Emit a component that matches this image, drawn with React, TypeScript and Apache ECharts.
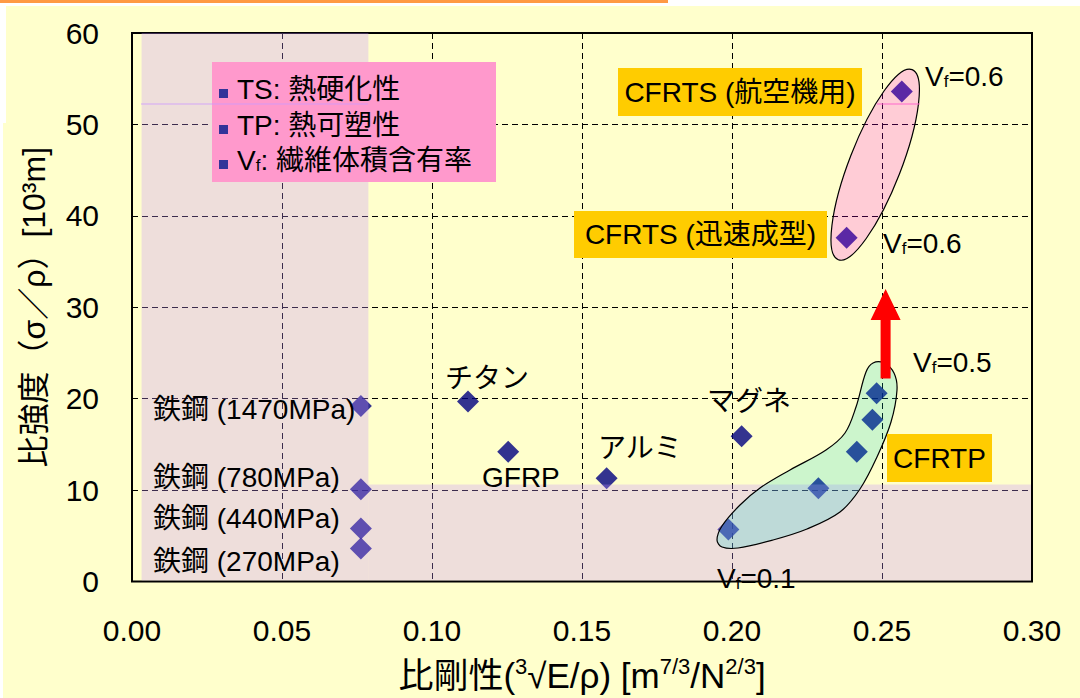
import React, { useEffect, useRef } from "react";
import * as echarts from "echarts";

// ---- data ----
const steelLabels = ["鉄鋼 (1470MPa)", "鉄鋼 (780MPa)", "鉄鋼 (440MPa)", "鉄鋼 (270MPa)"];
const steelStiffness = [0.0763, 0.0763, 0.0763, 0.0763];
const steelStrength = [19.2, 10.1, 5.8, 3.6];

const otherNames = ["チタン", "GFRP", "アルミ", "マグネ"];
const otherStiffness = [0.112, 0.1254, 0.1582, 0.2032];
const otherStrength = [19.7, 14.2, 11.3, 15.9];

const cfrtpStiffness = [0.1988, 0.2288, 0.2416, 0.2468, 0.2482];
const cfrtpStrength = [5.7, 10.2, 14.2, 17.7, 20.6];

const cfrtsNames = ["CFRTS (航空機用)", "CFRTS (迅速成型)"];
const cfrtsStiffness = [0.2566, 0.2382];
const cfrtsStrength = [53.6, 37.6];

const legendItems = ["TS: 熱硬化性", "TP: 熱可塑性", "Vf: 繊維体積含有率"];

const FONT = "'Liberation Sans', 'Noto Sans CJK JP', sans-serif";

const zip = (xs: number[], ys: number[]) => xs.map((x, i) => [x, ys[i]]);

export default function App() {
  const ref = useRef<HTMLDivElement>(null);

  useEffect(() => {
    const chart = echarts.init(ref.current!, null, { renderer: "svg" });
    const diamond = {
      type: "scatter",
      symbol: "diamond",
      symbolSize: 22,
      itemStyle: { color: "#000080" },
      z: 2,
    };
    chart.setOption({
      animation: false,
      backgroundColor: "transparent",
      grid: {
        left: 132,
        top: 33,
        width: 900,
        height: 550,
        show: true,
        borderColor: "#000",
        borderWidth: 2,
        backgroundColor: "transparent",
      },
      xAxis: {
        type: "value",
        min: 0,
        max: 0.3,
        interval: 0.05,
        axisLine: { show: false },
        axisTick: { show: false },
        axisLabel: {
          fontSize: 30,
          fontFamily: FONT,
          color: "#000",
          margin: 34,
          formatter: (v: number) => v.toFixed(2),
        },
        splitLine: { show: true, lineStyle: { color: "#000", width: 1, type: [6, 4] } },
        name: "{a|比剛性(}{s|3}{a|√E/ρ) [m}{s|7/3}{a|/N}{s|2/3}{a|]}",
        nameLocation: "middle",
        nameGap: 74,
        nameTextStyle: {
          rich: {
            a: { fontSize: 35, fontFamily: FONT, color: "#000", lineHeight: 40 },
            s: { fontSize: 22, fontFamily: FONT, color: "#000", verticalAlign: "top", lineHeight: 22 },
          },
        },
      },
      yAxis: {
        type: "value",
        min: 0,
        max: 60,
        interval: 10,
        axisLine: { show: false },
        axisTick: { show: false },
        axisLabel: { fontSize: 30, fontFamily: FONT, color: "#000", margin: 33 },
        splitLine: { show: true, lineStyle: { color: "#000", width: 1, type: [6, 4] } },
        name: "比強度（σ／ρ）[10³m]",
        nameLocation: "middle",
        nameRotate: 90,
        nameGap: 82,
        nameTextStyle: { fontSize: 32, fontFamily: FONT, color: "#000" },
      },
      series: [
        { ...diamond, name: "鉄鋼", data: zip(steelStiffness, steelStrength) },
        { ...diamond, name: "金属・GFRP", data: zip(otherStiffness, otherStrength) },
        { ...diamond, name: "CFRTP", data: zip(cfrtpStiffness, cfrtpStrength) },
        { ...diamond, name: "CFRTS", data: zip(cfrtsStiffness, cfrtsStrength) },
      ],
    });

    const px = (x: number, y: number) => chart.convertToPixel({ gridIndex: 0 }, [x, y]) as number[];

    const txt = (text: string, x: number, y: number, align = "left", size = 28, z = 30) => ({
      type: "text",
      z,
      silent: true,
      style: {
        text,
        x,
        y,
        fill: "#000",
        fontSize: size,
        fontFamily: FONT,
        align,
        verticalAlign: "middle",
      },
    });
    const richVf = (text: string, x: number, y: number) => ({
      type: "text",
      z: 30,
      silent: true,
      style: {
        text,
        x,
        y,
        fill: "#000",
        fontSize: 28,
        fontFamily: FONT,
        align: "left",
        verticalAlign: "middle",
        rich: {
          v: { fontSize: 28, fontFamily: FONT, fill: "#000" },
          s: { fontSize: 17, fontFamily: FONT, fill: "#000", verticalAlign: "bottom" },
        },
      },
    });
    const vf = (val: string, x: number, y: number) => richVf(`{v|V}{s|f}{v|=${val}}`, x, y);
    const box = (x1: number, y1: number, x2: number, y2: number, fill: string, z = 25) => ({
      type: "rect",
      z,
      silent: true,
      shape: { x: x1, y: y1, width: x2 - x1, height: y2 - y1 },
      style: { fill },
    });

    // shaded bands (L shape)
    const vTL = px(0.0032, 60);
    const vBR = px(0.0788, 0);
    const hTL = px(0.0788, 10.6);
    const hBR = px(0.3, 0);
    const bandFill = "rgba(198,145,255,0.3)";

    // CFRTS ellipse
    const c1 = px(cfrtsStiffness[0], cfrtsStrength[0]);
    const c2 = px(cfrtsStiffness[1], cfrtsStrength[1]);
    const ecx = (c1[0] + c2[0]) / 2 + 1;
    const ecy = (c1[1] + c2[1]) / 2;

    // arrow
    const aTip = px(0.2512, 32);
    const aHead = px(0.2512, 28.6);
    const aBot = px(0.2512, 22.2);
    const ax = aTip[0];

    const blob = [
      [873, 363], [884, 363], [894, 373], [897, 390], [891, 422], [877, 457], [860, 489],
      [840, 512], [807, 529], [773, 540], [738, 548], [722, 547], [717, 540], [722, 526],
      [740, 505], [760, 488], [790, 470], [826, 450], [845, 433], [856, 407], [866, 372],
    ];

    const legendY = [89, 125, 160];

    chart.setOption({
      graphic: [
        box(vTL[0], vTL[1], vBR[0], vBR[1] - 1, bandFill, 10),
        box(hTL[0], hTL[1], hBR[0] - 1, hBR[1] - 1, bandFill, 10),
        {
          type: "polygon",
          z: 11,
          silent: true,
          shape: { points: blob, smooth: 0.35 },
          style: { fill: "rgba(0,205,204,0.2)", stroke: "#000", lineWidth: 1.2 },
        },
        {
          type: "ellipse",
          z: 11,
          silent: true,
          x: ecx,
          y: ecy,
          rotation: -0.37,
          shape: { cx: 0, cy: 0, rx: 26, ry: 102 },
          style: { fill: "rgba(255,0,255,0.2)", stroke: "#000", lineWidth: 1.2 },
        },
        {
          type: "polygon",
          z: 15,
          silent: true,
          shape: {
            points: [
              [ax, aTip[1]], [ax + 15, aHead[1]], [ax + 5, aHead[1]], [ax + 5, aBot[1]],
              [ax - 5, aBot[1]], [ax - 5, aHead[1]], [ax - 15, aHead[1]],
            ],
          },
          style: { fill: "#FF0000" },
        },
        // legend box
        box(212, 62, 496, 182, "#FF99CC", 25),
        ...legendY.map((y) => box(219, y, 228, y + 9, "#333399", 26)),
        txt(legendItems[0], 237, legendY[0]),
        txt(legendItems[1], 237, legendY[1]),
        richVf("{v|V}{s|f}{v|: 繊維体積含有率}", 237, legendY[2]),
        // faint artifact lines
        { type: "line", z: 27, silent: true, shape: { x1: 141, y1: 104, x2: 368, y2: 104 }, style: { stroke: "rgba(204,153,255,0.8)", lineWidth: 1 } },
        { type: "line", z: 27, silent: true, shape: { x1: 877, y1: 104, x2: 920, y2: 104 }, style: { stroke: "#FF66CC", lineWidth: 1 } },
        // steel labels
        txt(steelLabels[0], 153, 409),
        txt(steelLabels[1], 153, 477),
        txt(steelLabels[2], 153, 518),
        txt(steelLabels[3], 153, 561),
        // other material labels
        txt(otherNames[0], 445, 378),
        txt(otherNames[1], 482, 477),
        txt(otherNames[2], 598, 448),
        txt(otherNames[3], 707, 401),
        // Vf labels
        vf("0.1", 717, 578),
        vf("0.5", 913, 362),
        vf("0.6", 925, 76),
        vf("0.6", 883, 243),
        // gold boxes
        box(887, 434, 992, 482, "#FFCC00", 25),
        txt("CFRTP", 939.5, 458, "center"),
        box(618, 68, 862, 116, "#FFCC00", 25),
        txt(cfrtsNames[0], 740, 92, "center"),
        box(574, 211, 827, 258, "#FFCC00", 25),
        txt(cfrtsNames[1], 700.5, 234.5, "center"),
      ],
    });

    return () => chart.dispose();
  }, []);

  return (
    <div style={{ position: "absolute", left: 0, top: 0, width: 1080, height: 698, background: "#fff", overflow: "hidden" }}>
      <div style={{ position: "absolute", left: 0, top: 0, width: 668, height: 3, background: "#FF9944" }} />
      <div style={{ position: "absolute", left: 6, top: 6, right: 0, bottom: 0, background: "#FFFFCC" }} />
      <div style={{ position: "absolute", left: 3, top: 123, width: 10, bottom: 0, background: "#FFFFCC" }} />
      <div ref={ref} style={{ position: "absolute", left: 0, top: 0, width: 1080, height: 698 }} />
    </div>
  );
}
